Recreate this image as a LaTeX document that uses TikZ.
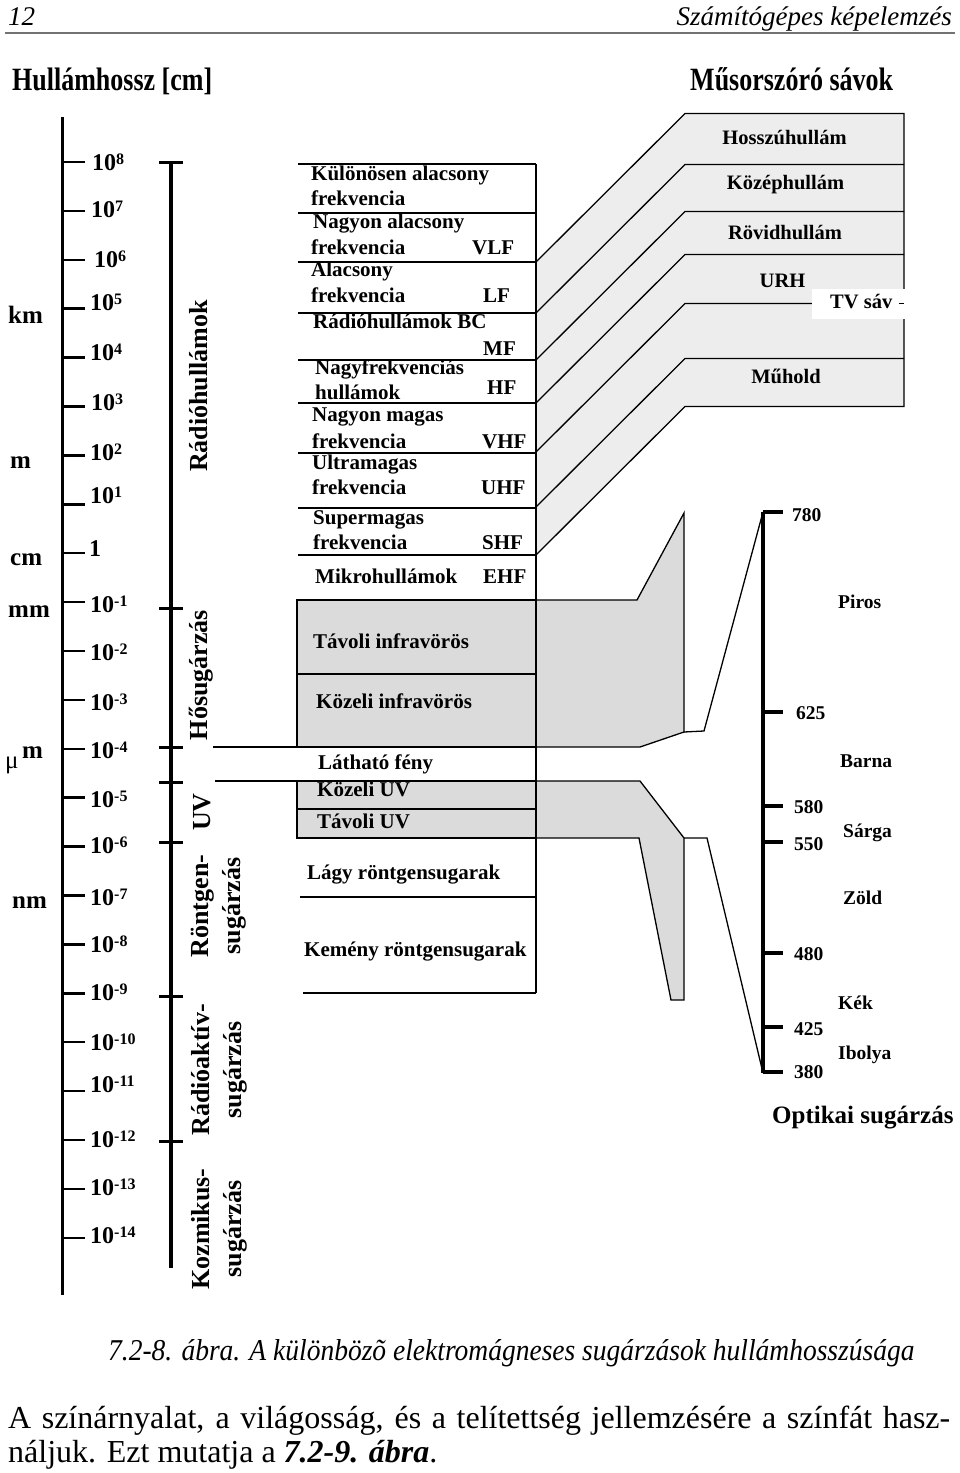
\documentclass[tikz,border=0pt]{standalone}
\usepackage{fontspec}
\setmainfont{Liberation Serif}
\usepackage{graphicx}
\newcommand\tpw[1]{10\raisebox{6pt}{\fontsize{16}{16}\selectfont #1}}
\begin{document}
\begin{tikzpicture}[x=1pt,y=-1pt,
  tk/.style={font=\fontsize{24}{24}\selectfont\bfseries, anchor=base west, inner sep=0},
  unit/.style={font=\fontsize{25}{25}\selectfont\bfseries, anchor=base west, inner sep=0},
  cat/.style={font=\fontsize{26}{32}\selectfont\bfseries, rotate=90, align=center, inner sep=0},
  bx/.style={font=\fontsize{21}{21}\selectfont\bfseries, anchor=base west, inner sep=0},
  band/.style={font=\fontsize{20.5}{20.5}\selectfont\bfseries, anchor=base, inner sep=0},
  opt/.style={font=\fontsize{19.5}{19.5}\selectfont\bfseries, anchor=base west, inner sep=0},
  hdr/.style={font=\fontsize{26}{26}\selectfont\bfseries, anchor=base west, inner sep=0},
  pagef/.style={font=\fontsize{27}{27}\selectfont\itshape, inner sep=0},
  thin/.style={line width=1.3pt},
  boxl/.style={line width=1.8pt},
  axl/.style={line width=3pt},
  axt/.style={line width=2.5pt},
  axb/.style={line width=4.5pt},
  grayA/.style={fill=black!14},
  grayB/.style={fill=black!7},
]
\fill[white] (0,0) rectangle (960,1473);
\useasboundingbox (0,0) rectangle (960,1473);

% ---- page header
\node[pagef, anchor=base west] (pgnum) at (8,25) {12};
\node[pagef, anchor=base east] (pgtitle) at (952,25) {Számítógépes képelemzés};
\draw[black!55, line width=1.2pt] (5,33) -- (955,33);

\node[hdr] (hdrL) at (12,90) {\scalebox{1}[1.25]{Hullámhossz [cm]}};
\node[hdr] (hdrR) at (690,90) {\scalebox{1}[1.25]{Műsorszóró sávok}};

% ---- broadcast bands polygon
\filldraw[grayB, draw=black, thin] (536,262) -- (685,113.5) -- (904,113.5) -- (904,406.5) -- (685,406.5) -- (536,555) -- cycle;
\foreach \yl in {313,360,403,452,507} {
  \draw[thin] (536,\yl) -- (685,\yl-148.5) -- (904,\yl-148.5);
}
% TV sav label box
\fill[white] (812,289) rectangle (907,319);
\draw[thin] (899,303.5) -- (904,303.5);

% ---- IR polygon and UV polygon
\filldraw[grayA, draw=black, thin] (536,600) -- (637,600) -- (684,513) -- (684,732) -- (640,747) -- (536,747) -- cycle;
\filldraw[grayA, draw=black, thin] (536,781) -- (640,781) -- (684,838) -- (684,1000) -- (671,1000) -- (639,838) -- (536,838) -- cycle;
% visible light funnel
\draw[thin] (684,732) -- (704,731) -- (763,512);
\draw[thin] (684,838) -- (707,838) -- (763,1073);

% ---- box column
\filldraw[grayA, draw=black, boxl] (297,600) rectangle (536,747);
\draw[thin] (297,674) -- (536,674);
\filldraw[grayA, draw=black, boxl] (297,781) rectangle (536,838);
\draw[boxl] (297,809) -- (536,809);
\foreach \yy in {164,213,262,313,360,403,453,508,555} {
  \draw[thin] (298,\yy) -- (536,\yy);
}
\draw[thin] (213,747) -- (297,747);
\draw[thin] (215,781) -- (297,781);
\draw[thin] (300,897) -- (536,897);
\draw[thin] (303,993) -- (536,993);
\draw[thin] (536,164) -- (536,993);
\draw[boxl] (536,600) -- (536,747);
\draw[boxl] (536,781) -- (536,838);

% ---- left axis
\draw[axl] (62,117) -- (62,1295);
\foreach \i in {0,...,22} {
  \draw[axt] (62,{162+48.9*\i}) -- (85,{162+48.9*\i});
}
\foreach \e/\b/\xx [count=\i] in {8/170/92,7/217/91,6/267/94,5/310/90,4/360/90,3/410/91,2/460/90,1/503/90} {
  \node[tk] (tp\i) at (\xx,\b) {\tpw{\e}};
}
\node[tk] (tone) at (89,556) {1};
\foreach \e/\b [count=\i] in {-1/612,-2/660,-3/710,-4/758,-5/807,-6/853,-7/905,-8/952,-9/1000,-10/1050,-11/1092,-12/1147,-13/1195,-14/1243} {
  \node[tk] (tn\i) at (90,\b) {\tpw{\e}};
}

% units
\node[unit] (ukm) at (8,323) {km};
\node[unit] (um) at (10,468) {m};
\node[unit] (ucm) at (10,565) {cm};
\node[unit] (umm) at (8,617) {mm};
\node[font=\fontsize{25}{25}\selectfont, anchor=base west, inner sep=0] (umu) at (5,768) {μ};
\node[unit] (umum) at (22,758) {m};
\node[unit] (unm) at (12,908) {nm};

% ---- second axis
\draw[axb] (171,162) -- (171,1268);
\foreach \yy in {162,608,747,782,842,996,1141} {
  \draw[line width=3pt] (159,\yy) -- (183,\yy);
}
\node[cat] (cRadio) at (199,386) {Rádióhullámok};
\node[cat] (cHo) at (201,675) {Hősugárzás};
\node[cat] (cUV) at (202,812) {UV};
\node[cat] (cRo) at (219,906) {Röntgen-\\sugárzás};
\node[cat] (cRa) at (219,1070) {Rádióaktív-\\sugárzás};
\node[cat] (cKo) at (219,1229) {Kozmikus-\\sugárzás};

% ---- box texts
\node[bx] (b1a) at (311,180) {Különösen alacsony};
\node[bx] (b1b) at (311,205) {frekvencia};
\node[bx] (b2a) at (313,228) {Nagyon alacsony};
\node[bx] (b2b) at (311,254) {frekvencia};
\node[bx] (b2c) at (472,254) {VLF};
\node[bx] (b3a) at (311,276) {Alacsony};
\node[bx] (b3b) at (311,302) {frekvencia};
\node[bx] (b3c) at (483,302) {LF};
\node[bx] (b4a) at (313,328) {Rádióhullámok BC};
\node[bx] (b4c) at (483,355) {MF};
\node[bx] (b5a) at (315,374) {Nagyfrekvenciás};
\node[bx] (b5b) at (315,399) {hullámok};
\node[bx] (b5c) at (487,394) {HF};
\node[bx] (b6a) at (312,421) {Nagyon magas};
\node[bx] (b6b) at (312,448) {frekvencia};
\node[bx] (b6c) at (482,448) {VHF};
\node[bx] (b7a) at (312,469) {Ultramagas};
\node[bx] (b7b) at (312,494) {frekvencia};
\node[bx] (b7c) at (481,494) {UHF};
\node[bx] (b8a) at (313,524) {Supermagas};
\node[bx] (b8b) at (313,549) {frekvencia};
\node[bx] (b8c) at (482,549) {SHF};
\node[bx] (b9a) at (315,583) {Mikrohullámok};
\node[bx] (b9c) at (483,583) {EHF};
\node[bx] (bIR1) at (313,648) {Távoli infravörös};
\node[bx] (bIR2) at (316,708) {Közeli infravörös};
\node[bx] (bVis) at (318,769) {Látható fény};
\node[bx] (bUV1) at (317,796) {Közeli UV};
\node[bx] (bUV2) at (317,828) {Távoli UV};
\node[bx] (bX1) at (307,879) {Lágy röntgensugarak};
\node[bx] (bX2) at (304,956) {Kemény röntgensugarak};

% ---- band labels
\node[band] (l1) at (784.5,144) {Hosszúhullám};
\node[band] (l2) at (785.5,189) {Középhullám};
\node[band] (l3) at (785,239) {Rövidhullám};
\node[band] (l4) at (782.5,287) {URH};
\node[band, anchor=base west] (l5) at (830,308) {TV sáv};
\node[band] (l6) at (786,383) {Műhold};

% ---- optical axis
\draw[axb] (763,512) -- (763,1073);
\foreach \yy in {512,712,806,842,953,1027,1072} {
  \draw[line width=4pt] (763,\yy) -- (783,\yy);
}
\node[opt] (o780) at (792,521) {780};
\node[opt] (o625) at (796,719) {625};
\node[opt] (o580) at (794,813) {580};
\node[opt] (o550) at (794,850) {550};
\node[opt] (o480) at (794,960) {480};
\node[opt] (o425) at (794,1035) {425};
\node[opt] (o380) at (794,1078) {380};
\node[opt] (cPi) at (838,608) {Piros};
\node[opt] (cBa) at (840,767) {Barna};
\node[opt] (cSa) at (843,837) {Sárga};
\node[opt] (cZo) at (843,904) {Zöld};
\node[opt] (cKe) at (838,1009) {Kék};
\node[opt] (cIb) at (838,1059) {Ibolya};
\node[font=\fontsize{25}{25}\selectfont\bfseries, anchor=base west, inner sep=0] (optT) at (772,1123) {Optikai sugárzás};

% ---- caption and body
\node[font=\fontsize{27.5}{27.5}\selectfont\itshape, anchor=base west, inner sep=0] (capt) at (108,1360)
  {\scalebox{1}[1.1]{7.2-8. ábra. A különbözõ elektromágneses sugárzások hullámhosszúsága}};
\node[font=\fontsize{32}{32}\selectfont, anchor=base west, inner sep=0] (body1) at (8,1428)
  {\makebox[942pt][s]{A színárnyalat, a világosság, és a telítettség jellemzésére a színfát hasz-}};
\node[font=\fontsize{32}{32}\selectfont, anchor=base west, inner sep=0] (body2) at (8,1462)
  {náljuk. Ezt mutatja a \textbf{\textit{7.2-9. ábra}}.};
\end{tikzpicture}
\end{document}
